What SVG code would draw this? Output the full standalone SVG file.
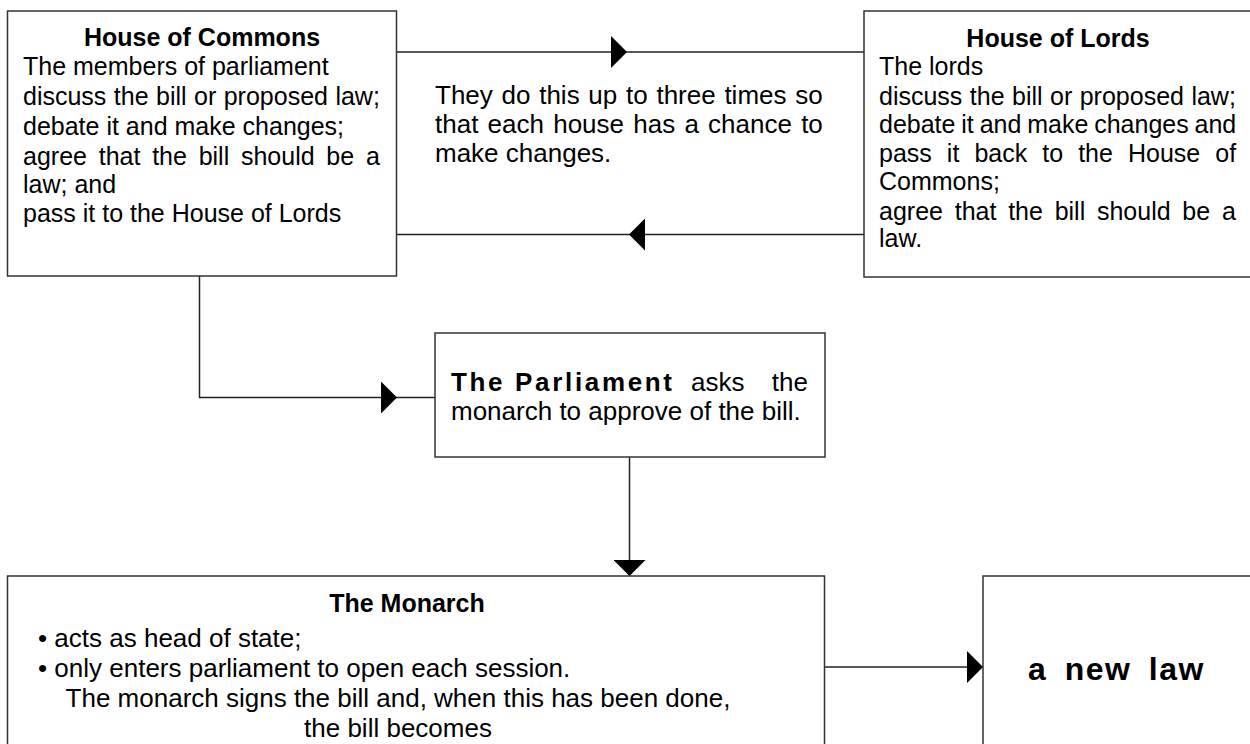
<svg xmlns="http://www.w3.org/2000/svg" width="1250" height="744" viewBox="0 0 1250 744">
<defs>
<marker id="ah" markerUnits="userSpaceOnUse" markerWidth="17" markerHeight="32" refX="16" refY="16" orient="auto">
<path d="M0,0 L16,16 L0,32 Z" fill="#000"/>
</marker>
</defs>
<style>
.box{fill:#fff;stroke:#333;stroke-width:1.5}
.t{font-family:"Liberation Sans",Arial,sans-serif;font-size:25px;fill:#000}
.m{font-size:26px}
.b{font-weight:bold}
.c{stroke:#222;stroke-width:1.5;fill:none}
</style>
<rect width="1250" height="744" fill="#fff"/>
<g id="connectors">
<path class="c" d="M397,52 H627" marker-end="url(#ah)"/>
<path class="c" d="M627,52 H864"/>
<path class="c" d="M864,234.5 H629" marker-end="url(#ah)"/>
<path class="c" d="M629,234.5 H397"/>
<path class="c" d="M199.5,276 V397.5 H397" marker-end="url(#ah)"/>
<path class="c" d="M397,397.5 H435"/>
<path class="c" d="M629.5,457.5 V576" marker-end="url(#ah)"/>
<path class="c" d="M824,667 H983" marker-end="url(#ah)"/>
</g>
<g id="commons">
<rect class="box" x="7.5" y="11" width="389" height="265"/>
<text class="t b" x="202" y="46" text-anchor="middle">House of Commons</text>
<text class="t" x="23" y="75">The members of parliament</text>
<text class="t" x="23" y="105" word-spacing="0.5">discuss the bill or proposed law;</text>
<text class="t" x="23" y="135">debate it and make changes;</text>
<text class="t" x="23" y="165" word-spacing="4.8">agree that the bill should be a</text>
<text class="t" x="23" y="193">law; and</text>
<text class="t" x="23" y="222">pass it to the House of Lords</text>
</g>
<g id="repeat-note">
<text class="t m" x="435" y="104" word-spacing="1.5">They do this up to three times so</text>
<text class="t m" x="435" y="133" word-spacing="2">that each house has a chance to</text>
<text class="t m" x="435" y="162">make changes.</text>
</g>
<g id="lords">
<rect class="box" x="864" y="11" width="390" height="266"/>
<text class="t b" x="1058" y="47" text-anchor="middle">House of Lords</text>
<text class="t" x="879" y="75">The lords</text>
<text class="t" x="879" y="105" word-spacing="0.5">discuss the bill or proposed law;</text>
<text class="t" x="879" y="133" word-spacing="-1.1">debate it and make changes and</text>
<text class="t" x="879" y="162" word-spacing="8.1">pass it back to the House of</text>
<text class="t" x="879" y="190">Commons;</text>
<text class="t" x="879" y="220" word-spacing="4.8">agree that the bill should be a</text>
<text class="t" x="879" y="247">law.</text>
</g>
<g id="parliament">
<rect class="box" x="435" y="333" width="390" height="124"/>
<text class="t m b" x="451" y="391" textLength="221" lengthAdjust="spacing">The Parliament</text>
<text class="t m" x="691" y="391">asks</text>
<text class="t m" x="808" y="391" text-anchor="end">the</text>
<text class="t m" x="451" y="420">monarch to approve of the bill.</text>
</g>
<g id="monarch">
<rect class="box" x="7.5" y="576" width="817" height="200"/>
<text class="t b" x="407" y="612" text-anchor="middle">The Monarch</text>
<text class="t m" x="38" y="647">• acts as head of state;</text>
<text class="t m" x="38" y="677">• only enters parliament to open each session.</text>
<text class="t m" x="398" y="707" text-anchor="middle">The monarch signs the bill and, when this has been done,</text>
<text class="t m" x="398" y="737" text-anchor="middle">the bill becomes</text>
</g>
<g id="new-law">
<rect class="box" x="983" y="576" width="280" height="200"/>
<text class="t b" x="1028" y="680" style="font-size:32px" letter-spacing="1.5" word-spacing="7">a new law</text>
</g>
</svg>
